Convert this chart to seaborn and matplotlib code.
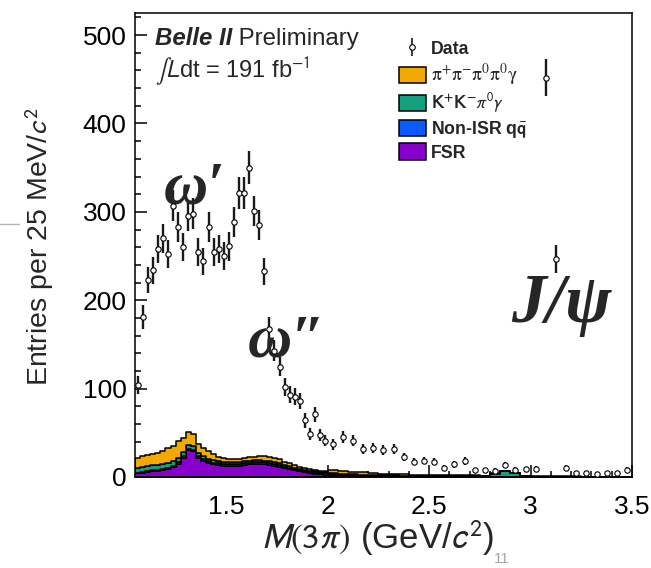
import numpy as np
import pandas as pd
import matplotlib
matplotlib.use("Agg")
import matplotlib.pyplot as plt
import seaborn as sns
from matplotlib.patches import Patch
from matplotlib.lines import Line2D
from matplotlib.ticker import MultipleLocator, FuncFormatter

# ---------------- data ----------------
# 25 MeV bins from 1.05 to 2.00 GeV, 50 MeV bins from 2.00 to 3.50 GeV
edges_fine = 1.05 + 0.025 * np.arange(39)
edges_coarse = 2.0 + 0.05 * np.arange(1, 31)
edges = np.concatenate([edges_fine, edges_coarse])
centers = 0.5 * (edges[:-1] + edges[1:])

data_fine = [104, 181, 223, 234, 258, 270, 252, 307, 283, 260,
             295, 298, 255, 244, 283, 255, 258, 250, 261, 289,
             321, 321, 350, 301, 285, 233, 168, 143, 125, 102,
             93, 91, 86, 64, 49, 71, 47.5, 41]
data_coarse = [37, 45, 41, 32, 33, 30.5, 31.5, 22.5, 17.5, 18.5,
               17.5, 10, 14.3, 18, 7.5, 7.5, 7, 13.8, 8.2, 8.8,
               9.2, 452, 247, 10.7, 4.5, 4.5, 3.5, 4, 4.5, 8]

fsr_fine = [4, 5, 6, 6.5, 7, 8, 9, 11, 15, 22, 30, 29, 22, 18.5, 16, 14.5,
            13.5, 12.8, 12.5, 12.6, 13, 13.6, 14.2, 14.6, 14.8, 14.6, 14, 13,
            11.6, 10, 8.6, 7.4, 6.3, 5.4, 4.6, 3.9, 3.3, 2.8]
nonisr_fine = [1.0, 1.0, 1.0, 1.0, 1.0, 1.0, 1.0, 1.2, 1.5, 1.5, 1.5, 1.5, 1.5,
               1.6, 1.8, 1.9, 2.0, 2.0, 2.0, 2.0, 2.0, 2.1, 2.1, 2.1, 2.1, 2.0,
               2.0, 2.0, 1.9, 1.8, 1.7, 1.7, 1.6, 1.6, 1.5, 1.4, 1.4, 1.3]
kk_fine = [5, 5.5, 5.5, 6, 6, 6, 6, 6, 5.5, 5, 4.5, 4.5, 4, 3.5, 3, 2.8,
           2.5, 2.3, 2.2, 2.1, 2, 2, 2, 2, 2, 2, 2, 1.9, 1.8, 1.7, 1.6, 1.5,
           1.4, 1.3, 1.2, 1.1, 1, 1]
pi4_fine = [11, 12.2, 12.3, 12.1, 12.7, 14.4, 16.4, 17.4, 18.7, 15.9, 14.5,
            14, 9.5, 9.5, 8.4, 6.3, 5, 4, 3.5, 3.5, 3.3, 3.5, 3.8, 4.4, 4.9,
            5.1, 5, 5.1, 4.6, 3.6, 3.6, 3.1, 2.4, 2.2, 2, 1.4, 1.3, 1.4]

fsr_coarse = [2.2, 1.8, 1.5, 1.2, 1.0, 0.8, 0.7, 0.6, 0.5, 0.4, 0.35, 0.3,
              0.3, 0.25, 0.25, 0.2, 0.2, 0.2, 0.2, 0.15, 0.15, 0.15, 0.15,
              0.1, 0.1, 0.1, 0.1, 0.1, 0.1, 0.1]
nonisr_coarse = [1.4, 1.2, 1.0, 0.9, 0.8, 0.7, 0.6, 0.5, 0.45, 0.4, 0.35, 0.3,
                 0.3, 0.25, 0.25, 0.2, 0.2, 0.2, 0.2, 0.2, 0.15, 0.15, 0.15,
                 0.1, 0.1, 0.1, 0.1, 0.1, 0.1, 0.1]
kk_coarse = [0.8, 0.7, 0.6, 0.5, 0.5, 0.4, 0.4, 0.35, 0.3, 0.3, 0.3, 0.3,
             0.3, 0.3, 0.3, 0.3, 3.0, 6.0, 3.8, 0.3, 0.2, 0.2, 0.2, 0.2, 0.2,
             0.15, 0.15, 0.1, 0.1, 0.1]
pi4_coarse = [3.6, 3.2, 2.8, 2.5, 2.2, 2.0, 1.8, 1.6, 1.5, 1.4, 1.3, 1.2, 1.1,
              1.0, 0.9, 0.8, 0.7, 0.7, 0.6, 0.5, 0.4, 0.4, 0.3, 0.3, 0.3, 0.2,
              0.2, 0.2, 0.2, 0.2]

components = ["pi4", "kk", "nonisr", "fsr"]          # top -> bottom of stack
colors = {"pi4": "#F2A900", "kk": "#12A07F", "nonisr": "#0A5BFF", "fsr": "#8800CC"}
legend_labels = ["Data", r"$\mathrm{\pi^{+}\pi^{-}\pi^{0}\pi^{0}\gamma}$",
                 r"$\mathbf{K^{+}K^{-}}\pi^{0}\gamma$",
                 r"Non-ISR q$\bar{\mathbf{q}}$", "FSR"]

# ---------------- style ----------------
sns.set_theme(style="ticks")
plt.rcParams["font.family"] = ["Liberation Sans", "DejaVu Sans"]
plt.rcParams["axes.linewidth"] = 1.1

fig = plt.figure(figsize=(6.51, 5.68), dpi=100)
ax = fig.add_axes([135 / 651, 1 - 477 / 568, 497 / 651, 464 / 568])

# stacked MC histograms
values = {
    "pi4": pi4_fine + pi4_coarse,
    "kk": kk_fine + kk_coarse,
    "nonisr": nonisr_fine + nonisr_coarse,
    "fsr": fsr_fine + fsr_coarse,
}
rows = []
for comp in components:
    for c, w in zip(centers, values[comp]):
        rows.append({"x": c, "w": w, "comp": comp})
df = pd.DataFrame(rows)
sns.histplot(data=df, x="x", weights="w", hue="comp", hue_order=components,
             multiple="stack", bins=[float(e) for e in edges], element="step",
             palette=colors, edgecolor="black", linewidth=1.1, alpha=1,
             legend=False, ax=ax)

# data points
data = np.array(data_fine + data_coarse, dtype=float)
ax.errorbar(centers, data, yerr=np.sqrt(data), fmt="none", ecolor="#1a1a1a",
            elinewidth=1.7, capsize=0, zorder=3)
sns.scatterplot(x=centers, y=data, marker="o", s=15, color="white",
                edgecolor="black", linewidth=0.8, zorder=4, ax=ax, legend=False)

# axes
ax.set_xlim(1.05, 3.5)
ax.set_ylim(0, 525)
ax.xaxis.set_major_locator(MultipleLocator(0.5))
ax.xaxis.set_minor_locator(MultipleLocator(0.1))
ax.yaxis.set_major_locator(MultipleLocator(100))
ax.yaxis.set_minor_locator(MultipleLocator(20))
ax.xaxis.set_major_formatter(FuncFormatter(lambda v, p: f"{v:g}"))
ax.tick_params(which="both", direction="in", top=False, right=False,
               colors="black", width=1.1)
ax.tick_params(which="major", length=8.5, labelsize=19)
ax.tick_params(which="minor", length=4.3)
ax.tick_params(axis="x", which="major", pad=13)
ax.tick_params(axis="y", which="major", pad=6)
for s in ax.spines.values():
    s.set_color("black")
    s.set_visible(True)

ax.set_xlabel(r"$\mathit{M}(3\pi)$ (GeV/$\mathit{c}^{2}$)", fontsize=25,
              math_fontfamily="stixsans")
ax.xaxis.set_label_coords(0.489, -0.088)
ax.set_ylabel(r"Entries per 25 MeV/$c^{2}$", fontsize=20.5,
              math_fontfamily="stixsans")
ax.yaxis.set_label_coords(-0.158, 0.497)

# labels on the plot
t1 = ax.text(1.1486, 483, "Belle II", fontsize=17.3, fontweight="bold",
             fontstyle="italic", va="bottom", ha="left")
ax.annotate(" Preliminary", xy=(1, 0), xycoords=t1, fontsize=17.3,
            va="bottom", ha="left")
ax.text(1.1486, 451, r"$\int\mathit{L}$dt = 191 fb$^{-1}$", fontsize=17,
        va="baseline", ha="left", math_fontfamily="stixsans")

serif = ["Liberation Serif", "DejaVu Serif"]
ax.text(1.192, 310, "ω′", fontsize=44, family=serif, fontweight="bold",
        fontstyle="italic", va="baseline", ha="left")
ax.text(1.607, 136, "ω″", fontsize=44, family=serif, fontweight="bold",
        fontstyle="italic", va="baseline", ha="left")
ax.text(2.905, 175, "J/ψ", fontsize=50, family=serif, fontweight="bold",
        fontstyle="italic", va="baseline", ha="left")

# legend
data_handle = ax.errorbar([np.nan], [np.nan], yerr=[1.0], fmt="o", mfc="white",
                          mec="black", ms=4, mew=0.8, ecolor="#1a1a1a",
                          elinewidth=1.2, capsize=0)
handles = [data_handle] + [Patch(facecolor=colors[c], edgecolor="black",
                                 linewidth=1.1) for c in components]
leg = ax.legend(handles, legend_labels, loc="upper left",
                bbox_to_anchor=(399 / 651, 1 - 40 / 568),
                bbox_transform=fig.transFigure, frameon=False, borderpad=0,
                borderaxespad=0, handlelength=1.5, handleheight=1.05,
                handletextpad=0.3, labelspacing=0.2,
                prop={"family": "Liberation Sans", "weight": "bold", "size": 12.8})
txts = leg.get_texts()
txts[1].set_math_fontfamily("stix")
txts[1].set_fontsize(14)
txts[2].set_math_fontfamily("stixsans")
txts[3].set_math_fontfamily("stixsans")

# slide artefacts
fig.add_artist(Line2D([0, 19 / 651], [1 - 224 / 568] * 2, color="#b4b4b4", lw=1))
fig.text(502 / 651, 2 / 568, "11", color="#a8a8a8", fontsize=11,
         ha="center", va="bottom")

fig.savefig("out.png", dpi=100)
